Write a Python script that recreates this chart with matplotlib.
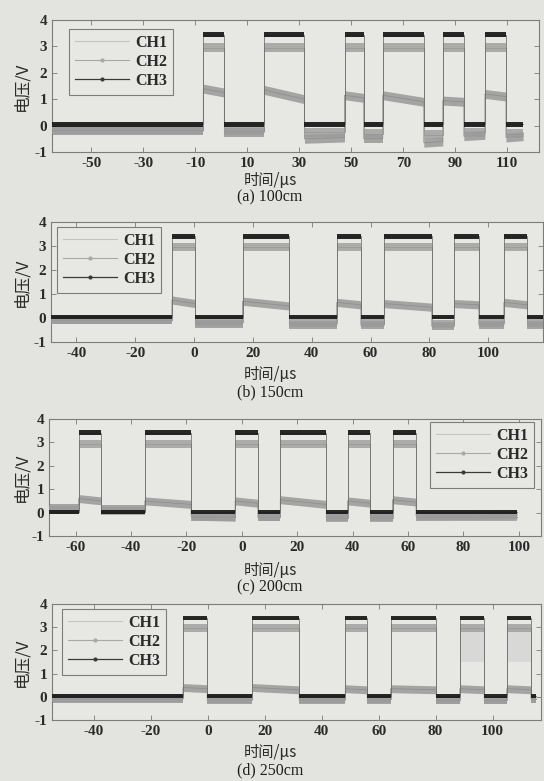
import matplotlib
matplotlib.use("Agg")
import matplotlib.pyplot as plt
from matplotlib.lines import Line2D

plt.rcParams['font.family'] = ['Liberation Serif', 'DejaVu Serif']
plt.rcParams['axes.unicode_minus'] = False

CJK = ['Noto Sans CJK SC', 'DejaVu Sans']

# ---- data ------------------------------------------------------------
# segment boundaries in us (first = trace start, last = trace end);
# segments alternate low / high, starting low
a_edges = [-65.1, -6.9, 1.2, 16.6, 32.0, 47.4, 54.8, 62.1, 77.9, 85.2, 93.3, 101.4, 109.5, 116.1]
b_edges = [-48.6, -7.5, 0.5, 16.5, 32.4, 48.5, 56.7, 64.7, 80.8, 88.5, 96.8, 105.3, 113.3, 118.6]
c_edges = [-69.6, -58.9, -50.7, -35.0, -18.3, -2.4, 5.8, 13.9, 30.5, 38.2, 46.4, 54.4, 62.9, 99.3]
d_edges = [-54.7, -8.7, -0.2, 15.7, 32.1, 48.3, 56.0, 64.2, 80.3, 88.5, 97.1, 105.0, 113.5, 115.3]

a_xlim = (-65.1, 122.2)
b_xlim = (-48.6, 118.6)
c_xlim = (-69.6, 108.0)
d_xlim = (-54.7, 117.0)

# CH3 (dark trace): high / low level
a_ch3 = (3.45, 0.05)
b_ch3 = (3.40, 0.05)
c_ch3 = (3.42, 0.02)
d_ch3 = (3.40, 0.05)

# CH2 level per segment
a_ch2 = [-0.15, 2.95, -0.2, 2.95, -0.25, 2.95, -0.3, 2.95, -0.35, 2.95, -0.25, 2.95, -0.3]
b_ch2 = [-0.1, 2.95, -0.15, 2.95, -0.2, 2.95, -0.2, 2.95, -0.25, 2.95, -0.2, 2.95, -0.2]
c_ch2 = [0.1, 2.95, 0.05, 2.95, -0.2, 2.95, -0.2, 2.95, -0.25, 2.95, -0.25, 2.95, -0.2]
d_ch2 = [-0.05, 2.95, -0.1, 2.95, -0.1, 2.95, -0.1, 2.95, -0.15, 2.95, -0.15, 2.95, -0.1]

# CH1 level per segment, at segment start and at segment end
a_ch1_start = [-0.2, 1.4, -0.25, 1.35, -0.5, 1.15, -0.5, 1.15, -0.65, 0.95, -0.4, 1.2, -0.45]
a_ch1_end = [-0.2, 1.25, -0.25, 1.0, -0.45, 1.05, -0.5, 0.9, -0.6, 0.9, -0.35, 1.1, -0.4]
b_ch1_start = [-0.1, 0.75, -0.25, 0.7, -0.3, 0.65, -0.3, 0.6, -0.35, 0.6, -0.3, 0.65, -0.3]
b_ch1_end = [-0.1, 0.6, -0.25, 0.5, -0.3, 0.55, -0.3, 0.45, -0.35, 0.55, -0.3, 0.55, -0.3]
c_ch1_start = [0.2, 0.6, 0.15, 0.5, -0.15, 0.5, -0.2, 0.55, -0.2, 0.5, -0.2, 0.55, -0.15]
c_ch1_end = [0.2, 0.5, 0.15, 0.35, -0.2, 0.4, -0.2, 0.35, -0.2, 0.4, -0.2, 0.45, -0.1]
d_ch1_start = [-0.1, 0.4, -0.15, 0.4, -0.15, 0.35, -0.15, 0.35, -0.15, 0.35, -0.15, 0.35, -0.1]
d_ch1_end = [-0.1, 0.35, -0.15, 0.3, -0.15, 0.3, -0.15, 0.3, -0.15, 0.3, -0.15, 0.3, -0.1]

# segments of (d) where CH2 flickers down to this level
d_ch2_spread = [9, 11]
d_ch2_spread_lo = 1.5

a_ticks = list(range(-50, 111, 20))
b_ticks = list(range(-40, 101, 20))
c_ticks = list(range(-60, 101, 20))
d_ticks = list(range(-40, 101, 20))
y_ticks = [-1, 0, 1, 2, 3, 4]

captions = ['(a) 100cm', '(b) 150cm', '(c) 200cm', '(d) 250cm']
channels = ['CH1', 'CH2', 'CH3']

# ---- layout (pixels of the 544x781 page) -------------------------------
W, H = 544, 781
BG = '#e3e3df'
boxes = [(52, 539, 20, 152), (51, 543, 222, 342), (49, 541, 419, 536), (52, 541, 604, 720)]
xlab_y = [180, 375, 570, 752]
cap_y = [197, 392, 587, 770]
leg_anchor = [((69, 29), 'upper left'), ((57, 227), 'upper left'),
              ((534, 422), 'upper right'), ((62, 609), 'upper left')]

fig = plt.figure(figsize=(W / 100, H / 100), dpi=100, facecolor=BG)


def band(ax, x0, x1, y0, y1, half, color, alpha, z):
    ax.fill_between([x0, x1], [y0 - half, y1 - half], [y0 + half, y1 + half],
                    color=color, alpha=alpha, lw=0, zorder=z)


def trace(ax, edges, ys, ye, half, color, alpha, z, edge_color):
    xs, yy = [], []
    for i in range(len(ys)):
        band(ax, edges[i], edges[i + 1], ys[i], ye[i], half, color, alpha, z)
        xs += [edges[i], edges[i + 1]]
        yy += [ys[i], ye[i]]
    ax.plot(xs, yy, color=edge_color, lw=0.6, alpha=0.9, zorder=z - 0.5)


panels = [
    (a_edges, a_xlim, a_ch3, a_ch2, a_ch1_start, a_ch1_end, a_ticks),
    (b_edges, b_xlim, b_ch3, b_ch2, b_ch1_start, b_ch1_end, b_ticks),
    (c_edges, c_xlim, c_ch3, c_ch2, c_ch1_start, c_ch1_end, c_ticks),
    (d_edges, d_xlim, d_ch3, d_ch2, d_ch1_start, d_ch1_end, d_ticks),
]

for k, (edges, xlim, ch3, ch2, ch1s, ch1e, ticks) in enumerate(panels):
    l, r, t, b = boxes[k]
    ax = fig.add_axes([l / W, 1 - b / H, (r - l) / W, (b - t) / H])
    ax.set_facecolor('#e7e7e4')

    n = len(edges) - 1
    ch3_lv = [ch3[1] if i % 2 == 0 else ch3[0] for i in range(n)]
    trace(ax, edges, ch1s, ch1e, 0.17, '#8e8e8e', 0.75, 2, '#8a8a8a')
    trace(ax, edges, ch2, ch2, 0.17, '#9c9c9c', 0.8, 3, '#8a8a8a')
    if k == 3:
        for i in d_ch2_spread:
            ax.fill_between([edges[i], edges[i + 1]], d_ch2_spread_lo, ch2[i],
                            color='#a0a0a0', alpha=0.2, lw=0, zorder=2.5)
    trace(ax, edges, ch3_lv, ch3_lv, 0.09, '#1c1c1c', 0.95, 4, '#6a6a6a')

    ax.set_xlim(*xlim)
    ax.set_ylim(-1, 4)
    ax.set_xticks(ticks)
    ax.set_yticks(y_ticks)
    ax.tick_params(direction='in', top=True, right=True, length=3.5, width=0.6,
                   color='#777777', labelsize=11, labelcolor='#2a2a2a', pad=3.5)
    for lab in ax.get_xticklabels() + ax.get_yticklabels():
        lab.set_fontweight('bold')
    for s in ax.spines.values():
        s.set_color('#7c7c7c')
        s.set_linewidth(0.8)

    ax.set_ylabel('电压/V', family=CJK, fontsize=12, color='#2a2a2a')
    ax.yaxis.set_label_coords((30 - l) / (r - l), 0.5)

    handles = [
        Line2D([], [], color='#c4c4c4', lw=0.8),
        Line2D([], [], color='#a8a8a8', lw=0.8, marker='.', markersize=4),
        Line2D([], [], color='#3a3a3a', lw=0.9, marker='.', markersize=4),
    ]
    (px, py), loc = leg_anchor[k]
    leg = ax.legend(handles, channels, loc=loc,
                    bbox_to_anchor=((px - l) / (r - l), (b - py) / (b - t)),
                    prop={'family': 'Liberation Serif', 'weight': 'bold', 'size': 11.5},
                    handlelength=3.4, handletextpad=0.4, labelspacing=0.2,
                    borderpad=0.35, borderaxespad=0, fancybox=False, framealpha=1,
                    facecolor='#e7e7e4', edgecolor='#7c7c7c', numpoints=1)
    leg.get_frame().set_linewidth(0.8)
    for txt in leg.get_texts():
        txt.set_color('#2a2a2a')

    fig.text(270 / W, 1 - xlab_y[k] / H, '时间/μs', family=CJK, fontsize=11,
             ha='center', va='center', color='#2a2a2a')
    fig.text(270 / W, 1 - cap_y[k] / H, captions[k], fontsize=11.5,
             ha='center', va='center', color='#1e1e1e')

fig.savefig('out.png', dpi=100, facecolor=BG)
